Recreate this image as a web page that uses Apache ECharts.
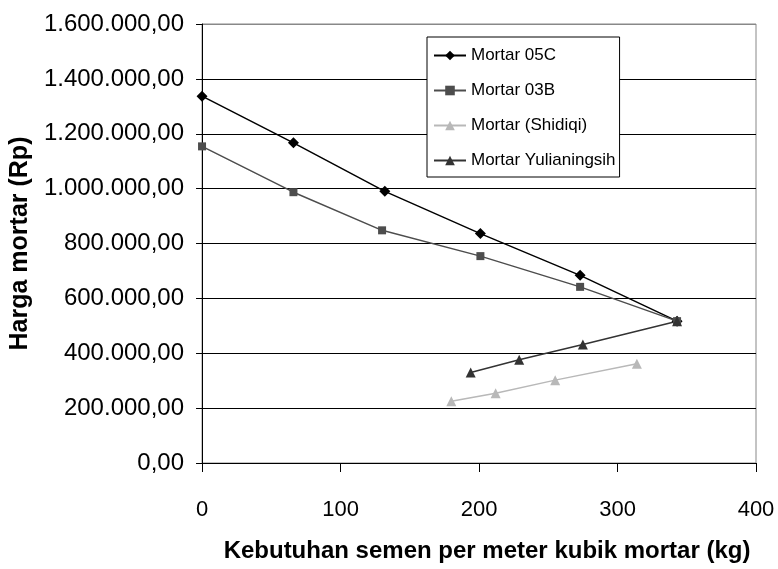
<!DOCTYPE html>
<html>
<head>
<meta charset="utf-8">
<script src="https://cdn.jsdelivr.net/npm/echarts@6/dist/echarts.min.js"></script>
<style>
  html, body { margin: 0; padding: 0; background: #fff; }
  #chart { width: 778px; height: 569px; }
</style>
</head>
<body>
<div id="chart"></div>
<script>
// semen (kg/m3) vs harga mortar (Rp)
const mortar05C = [[0, 1337000], [66, 1167000], [132, 990000], [201, 836000], [273, 684000], [343, 517000]]
const mortar03B = [[0, 1154000], [66, 987000], [130, 848000], [201, 754000], [273, 642000], [343, 517000]]
const mortarShidiqi = [[180, 225000], [212, 254000], [255, 302000], [314, 362000]]
const mortarYuli = [[194, 330000], [229, 376000], [275, 432000], [343, 517000]]

const seriesNames = ['Mortar 05C', 'Mortar 03B', 'Mortar (Shidiqi)', 'Mortar Yulianingsih']
const xTitle = 'Kebutuhan semen per meter kubik mortar (kg)'
const yTitle = 'Harga mortar (Rp)'

const font = "'Liberation Sans', Arial, sans-serif"

// 1600000 -> "1.600.000,00"
function rupiah(v) {
  const s = Math.round(v).toString().replace(/\B(?=(\d{3})+(?!\d))/g, '.')
  return s + ',00'
}

function line(name, data, color, symbol, size) {
  return {
    name,
    type: 'line',
    data,
    symbol,
    symbolSize: size,
    itemStyle: { color },
    lineStyle: { color, width: 1.5 },
    emphasis: { disabled: true },
    animation: false
  }
}

const chart = echarts.init(document.getElementById('chart'))
chart.setOption({
  backgroundColor: '#fff',
  textStyle: { fontFamily: font },
  grid: { left: 199, right: 22, top: 24, bottom: 106, show: true, borderColor: '#888', borderWidth: 1 },
  legend: {
    orient: 'vertical',
    left: 427,
    top: 37,
    data: seriesNames,
    itemWidth: 32,
    itemHeight: 12,
    itemGap: 16,
    padding: [9, 4, 7, 6],
    borderColor: '#000',
    borderWidth: 1,
    backgroundColor: '#fff',
    textStyle: { fontSize: 17, lineHeight: 19, color: '#000', fontFamily: font }
  },
  xAxis: {
    type: 'value',
    min: 0,
    max: 400,
    interval: 100,
    name: xTitle,
    nameLocation: 'middle',
    nameGap: 76,
    nameTextStyle: { fontSize: 24, fontWeight: 'bold', color: '#000', fontFamily: font, padding: [0, 0, 0, 16] },
    axisLine: { lineStyle: { color: '#000', width: 1 } },
    axisTick: { show: true, length: 9, lineStyle: { color: '#000' } },
    axisLabel: { fontSize: 22, color: '#000', margin: 36 },
    splitLine: { show: false }
  },
  yAxis: {
    type: 'value',
    min: 0,
    max: 1600000,
    interval: 200000,
    name: yTitle,
    nameLocation: 'middle',
    nameGap: 158,
    nameTextStyle: { fontSize: 25, fontWeight: 'bold', color: '#000', fontFamily: font },
    axisLine: { show: true, lineStyle: { color: '#000', width: 1 } },
    axisTick: { show: true, length: 6, lineStyle: { color: '#000' } },
    axisLabel: { fontSize: 24, color: '#000', margin: 18, formatter: rupiah },
    splitLine: {
      show: true,
      lineStyle: { color: ['#000', '#000', '#000', '#000', '#000', '#000', '#000', '#000', '#888'], width: 1 }
    }
  },
  series: [
    line(seriesNames[0], mortar05C, '#000', 'diamond', 11),
    line(seriesNames[1], mortar03B, '#4d4d4d', 'rect', 8),
    line(seriesNames[2], mortarShidiqi, '#b8b8b8', 'triangle', 10),
    line(seriesNames[3], mortarYuli, '#333', 'triangle', 10)
  ]
})
</script>
</body>
</html>
